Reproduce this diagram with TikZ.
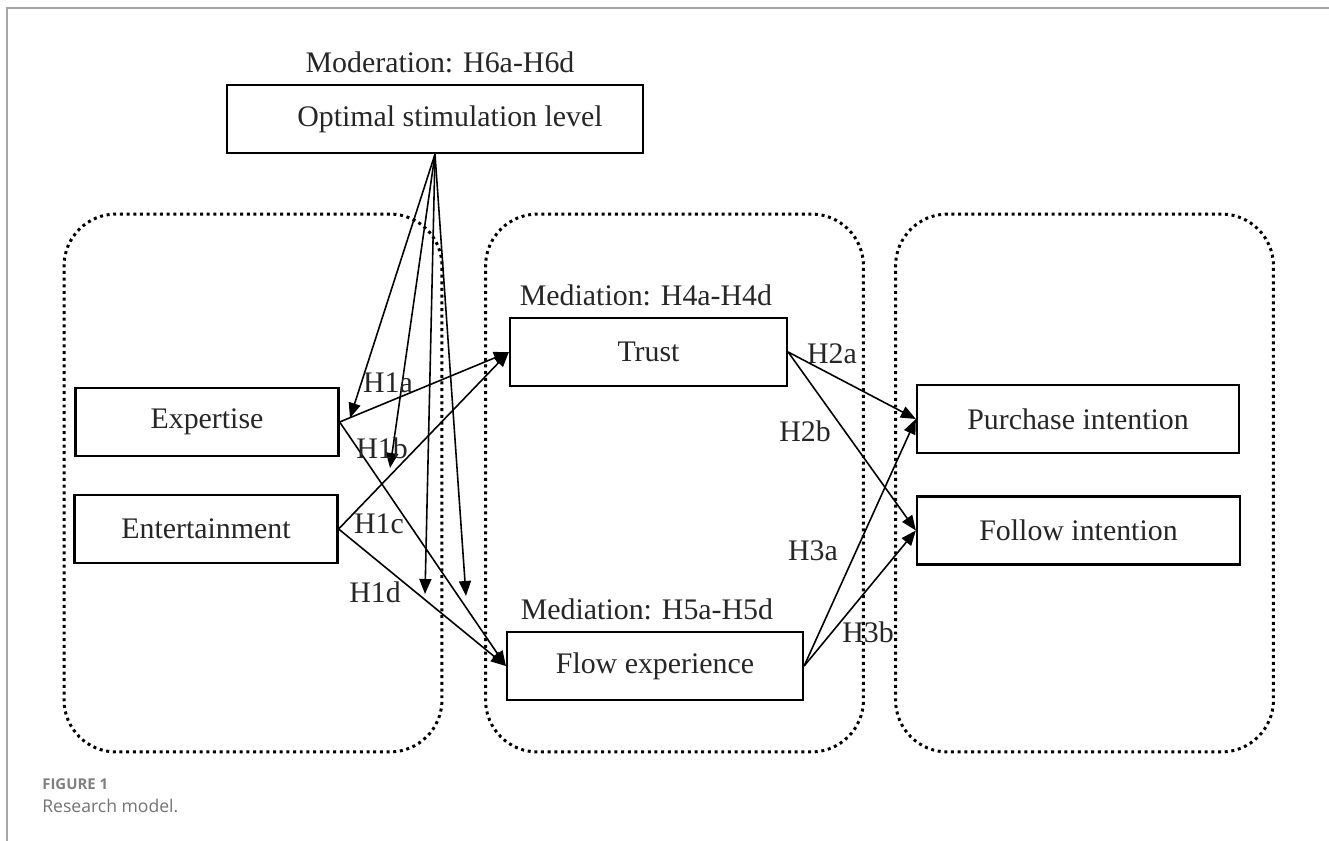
\documentclass[tikz,border=0pt]{standalone}
\usepackage{fontspec}
\setmainfont{Liberation Serif}
\newfontfamily\capfont{Open Sans}
\usetikzlibrary{arrows.meta}

\begin{document}
\begin{tikzpicture}[x=0.02cm, y=-0.02cm,
		varbox/.style={draw, line width=1.3pt, minimum height=1.36cm, inner sep=0pt, text=black!85, font=\fontsize{17}{20}\selectfont},
		panel/.style={draw, line width=1.7pt, dash pattern=on 1.7pt off 2.1pt, rounded corners=1.04cm, minimum width=7.56cm, minimum height=10.76cm},
		hyp/.style={inner sep=0pt, text=black!85, font=\fontsize{17}{20}\selectfont},
		link/.style={line width=0.9pt, -{Triangle[length=0.3cm, width=0.24cm]}}]
				\useasboundingbox (0,0) rectangle (1329,841);
				\draw[black!35, line width=1pt] (7,841) -- (7,8) -- (1329,8);

				\node[panel] (lpanel) at (253,483) {};
				\node[panel] (mpanel) at (674.5,483) {};
				\node[panel] (rpanel) at (1084.5,483) {};

				\node[hyp] (modlab) at (440,62) {Moderation: H6a-H6d};
				\node[varbox, minimum width=8.32cm] (osl) at (435,119) {\hspace*{0.6cm}Optimal stimulation level};

				\node[varbox, minimum width=5.26cm] (exp) at (207,422) {Expertise};
				\node[varbox, minimum width=5.26cm] (ent) at (206,529) {Entertainment};

				\node[hyp] (med4) at (646,295) {Mediation: H4a-H4d};
				\node[varbox, minimum width=5.54cm] (trust) at (648.5,352) {Trust};
				\node[hyp] (med5) at (647,609) {Mediation: H5a-H5d};
				\node[varbox, minimum width=5.92cm] (flow) at (655,666) {Flow experience};

				\node[varbox, minimum width=6.44cm] (buy) at (1078,419) {Purchase intention};
				\node[varbox, minimum width=6.46cm] (follow) at (1078.5,530.5) {Follow intention};

				\coordinate (m1) at (350,418);
				\coordinate (m2) at (390,468);
				\coordinate (m3) at (425,594);
				\coordinate (m4) at (466,596);
				\draw[link] (osl.south) -- (m1);
				\draw[link] (osl.south) -- (m2);
				\draw[link] (osl.south) -- (m3);
				\draw[link] (osl.south) -- (m4);

				\draw[link] (exp.east) -- (trust.west);
				\draw[link] (exp.east) -- (flow.west);
				\draw[link] (ent.east) -- (trust.west);
				\draw[link] (ent.east) -- (flow.west);
				\draw[link] (trust.east) -- (buy.west);
				\draw[link] (trust.east) -- (follow.west);
				\draw[link] (flow.east) -- (buy.west);
				\draw[link] (flow.east) -- (follow.west);

				\node[hyp] (h1a) at (388,383) {H1a};
				\node[hyp] (h1b) at (382,448) {H1b};
				\node[hyp] (h1c) at (379,524) {H1c};
				\node[hyp] (h1d) at (375,592) {H1d};
				\node[hyp] (h2a) at (832,354) {H2a};
				\node[hyp] (h2b) at (805,431) {H2b};
				\node[hyp] (h3a) at (813,551) {H3a};
				\node[hyp] (h3b) at (868,632) {H3b};

				\node[anchor=west, inner sep=0pt, text=black!50, font=\capfont\bfseries\fontsize{8.5}{10}\selectfont] (fignum) at (42,784) {FIGURE 1};
				\node[anchor=west, inner sep=0pt, text=black!55, font=\capfont\fontsize{10}{12}\selectfont] (figcap) at (42,806) {Research model.};
			\end{tikzpicture}
\end{document}
